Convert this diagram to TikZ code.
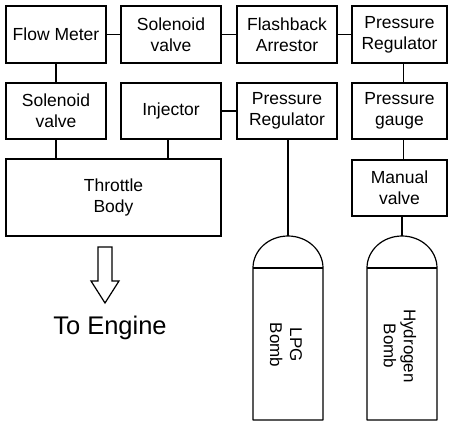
\documentclass[tikz,border=0pt]{standalone}
\usepackage{fontspec}
\setmainfont{Liberation Sans}
\begin{document}
\begin{tikzpicture}[x=1pt,y=-1pt,
  box/.style={draw,line width=1.2pt,minimum width=100pt,minimum height=57pt,inner sep=0pt,align=center,font=\fontsize{17.5}{21}\selectfont},
  nbox/.style={box,minimum width=95pt},
  conn/.style={line width=1.2pt},
  bombline/.style={line width=1.2pt,line join=round}]
\useasboundingbox (0,0) rectangle (450,422);
\node[box] (fm) at (56,34.5) {Flow Meter};
\node[box] (sv1) at (171,34.5) {Solenoid\\valve};
\node[box] (fa) at (287,34.5) {Flashback\\Arrestor};
\node[nbox] (pr1) at (399.5,34.5) {Pressure\\Regulator};
\node[box,minimum height=56pt] (sv2) at (56,111) {Solenoid\\valve};
\node[box,minimum height=56pt] (inj) at (171,111) {Injector};
\node[box,minimum height=56pt] (pr2) at (287,111) {Pressure\\Regulator};
\node[nbox,minimum height=56pt] (pg) at (399.5,111) {Pressure\\gauge};
\node[box,minimum width=215pt,minimum height=77pt] (tb) at (113.5,197.5) {Throttle\\Body};
\node[nbox,minimum height=56pt] (mv) at (399.5,188) {Manual\\valve};
% connectors
\draw[conn] (fm) -- (sv1);
\draw[conn] (sv1) -- (fa);
\draw[conn] (fa) -- (pr1);
\draw[conn] (fm) -- (sv2);
\draw[conn] (sv2.south) -- (sv2.south |- tb.north);
\draw[conn] ([xshift=-3pt]inj.south) -- ([xshift=-3pt]inj.south |- tb.north);
\draw[conn] (inj) -- (pr2);
\draw[conn] ([xshift=4pt]pr1.south) -- ([xshift=4pt]pr1.south |- pg.north);
\draw[conn] ([xshift=4pt]pg.south) -- ([xshift=4pt]pg.south |- mv.north);
% bombs
\coordinate (lpgtop) at (288,236);
\coordinate (h2top) at (402,236);
\draw[conn] (pr2.south -| lpgtop) -- (lpgtop);
\draw[conn] (mv.south -| h2top) -- (h2top);
\draw[bombline] (253,420) -- (253,268) arc[start angle=180,end angle=0,x radius=35,y radius=-32] -- (323,420) -- cycle;
\draw[bombline] (253,268) -- (323,268);
\draw[bombline] (367,420) -- (367,268) arc[start angle=180,end angle=0,x radius=35,y radius=-32] -- (437,420) -- cycle;
\draw[bombline] (367,268) -- (437,268);
\node[rotate=-90,align=center,font=\fontsize{17}{20}\selectfont] (lpgt) at (286,345) {LPG\\Bomb};
\node[rotate=-90,align=center,font=\fontsize{17}{20}\selectfont] (h2t) at (400,346) {Hydrogen\\Bomb};
% arrow
\draw[line width=1.2pt,line join=miter] (98,247) -- (112,247) -- (112,281) -- (119,281) -- (105,303) -- (91,281) -- (98,281) -- cycle;
\node[font=\fontsize{25.5}{28}\selectfont] (eng) at (110,328) {To Engine};
\end{tikzpicture}
\end{document}
